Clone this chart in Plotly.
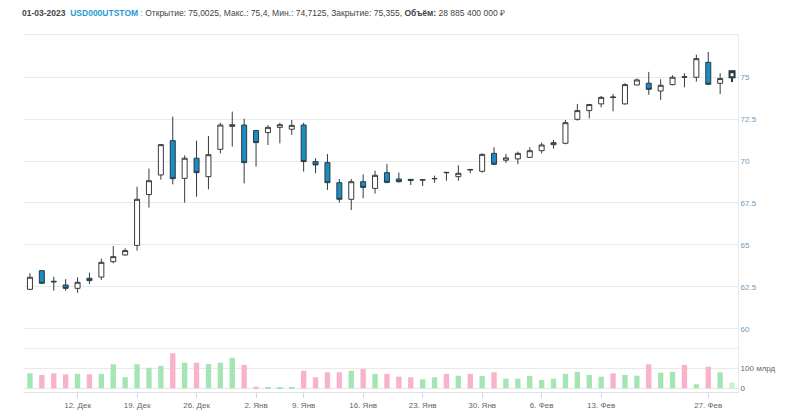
import plotly.graph_objects as go

dates = [
    "2022-12-06", "2022-12-07", "2022-12-08", "2022-12-09", "2022-12-12", "2022-12-13",
    "2022-12-14", "2022-12-15", "2022-12-16", "2022-12-19", "2022-12-20", "2022-12-21",
    "2022-12-22", "2022-12-23", "2022-12-26", "2022-12-27", "2022-12-28", "2022-12-29",
    "2022-12-30", "2023-01-03", "2023-01-04", "2023-01-05", "2023-01-06", "2023-01-09",
    "2023-01-10", "2023-01-11", "2023-01-12", "2023-01-13", "2023-01-16", "2023-01-17",
    "2023-01-18", "2023-01-19", "2023-01-20", "2023-01-23", "2023-01-24", "2023-01-25",
    "2023-01-26", "2023-01-27", "2023-01-30", "2023-01-31", "2023-02-01", "2023-02-02",
    "2023-02-03", "2023-02-06", "2023-02-07", "2023-02-08", "2023-02-09", "2023-02-10",
    "2023-02-13", "2023-02-14", "2023-02-15", "2023-02-16", "2023-02-17", "2023-02-20",
    "2023-02-21", "2023-02-22", "2023-02-24", "2023-02-27", "2023-02-28", "2023-03-01",
]

open_ = [62.35, 63.46, 62.83, 62.61, 62.41, 63.01, 63.08, 64.00, 64.40, 64.97,
         68.00, 69.17, 71.22, 68.97, 70.17, 69.07, 70.70, 72.07, 72.15, 71.82,
         71.70, 72.01, 71.90, 72.15, 69.97, 69.91, 68.71, 67.72, 68.77, 68.37,
         69.31, 68.93, 68.91, 68.86, 68.94, 69.33, 69.07, 69.50, 69.39, 70.46,
         70.05, 70.13, 70.22, 70.62, 70.98, 71.06, 72.49, 73.01, 73.41, 73.82,
         73.41, 74.54, 74.64, 74.18, 74.56, 75.03, 75.00, 75.89, 74.64, 75.0025]
high = [63.31, 63.50, 63.10, 62.95, 63.07, 63.34, 64.18, 64.93, 64.80, 68.47,
        69.55, 71.02, 72.65, 70.34, 71.22, 71.50, 72.29, 72.95, 72.53, 71.86,
        72.15, 72.29, 72.45, 72.29, 70.17, 70.42, 68.93, 68.93, 69.21, 69.43,
        69.83, 69.31, 68.93, 68.90, 69.13, 69.34, 69.75, 69.51, 70.46, 70.82,
        70.42, 70.56, 70.82, 71.10, 71.26, 72.45, 73.41, 73.41, 73.88, 74.00,
        74.64, 74.92, 75.32, 74.88, 75.12, 75.24, 76.35, 76.51, 75.24, 75.4]
low = [62.33, 62.68, 62.27, 62.27, 62.15, 62.67, 62.91, 63.90, 64.36, 64.66,
       67.22, 68.89, 68.61, 67.52, 67.88, 68.32, 70.46, 70.86, 68.67, 69.67,
       70.96, 71.06, 71.56, 69.37, 69.27, 68.28, 67.52, 67.08, 67.78, 68.06,
       68.67, 68.71, 68.57, 68.51, 68.71, 68.83, 68.83, 69.27, 69.31, 69.77,
       69.89, 69.81, 70.20, 70.46, 70.74, 71.00, 72.41, 72.55, 73.21, 72.97,
       73.37, 74.52, 73.96, 73.65, 74.52, 74.40, 74.74, 74.56, 74.00, 74.7125]
close = [63.07, 62.71, 62.80, 62.41, 62.77, 62.87, 63.96, 64.30, 64.66, 67.72,
         68.83, 70.98, 68.95, 70.17, 69.31, 70.38, 72.15, 72.17, 69.91, 71.10,
         72.01, 72.17, 72.13, 69.97, 69.77, 68.71, 67.72, 68.77, 68.43, 69.15,
         68.73, 68.77, 68.85, 68.89, 68.96, 69.31, 69.27, 69.48, 70.40, 69.81,
         70.19, 70.46, 70.62, 70.96, 71.10, 72.29, 73.01, 73.37, 73.80, 73.80,
         74.56, 74.84, 74.28, 74.52, 75.00, 75.01, 76.11, 74.58, 74.92, 75.355]

volume_bn = [75, 67, 75, 70, 72, 70, 72, 120, 55, 120,
             103, 112, 175, 128, 128, 122, 128, 153, 117, 8,
             7, 5, 5, 88, 55, 80, 80, 88, 97, 72,
             72, 58, 55, 45, 55, 72, 63, 72, 62, 80,
             48, 48, 62, 42, 48, 72, 82, 67, 58, 75,
             67, 63, 120, 78, 82, 117, 20, 108, 80, 28.8854]

tick_dates = ["2022-12-12", "2022-12-19", "2022-12-26", "2023-01-03", "2023-01-09",
              "2023-01-16", "2023-01-23", "2023-01-30", "2023-02-06", "2023-02-13",
              "2023-02-27"]
tick_labels = ["12. Дек", "19. Дек", "26. Дек", "2. Янв", "9. Янв", "16. Янв",
               "23. Янв", "30. Янв", "6. Фев", "13. Фев", "27. Фев"]

price_ticks = [60, 62.5, 65, 67.5, 70, 72.5, 75]
price_labels = ["60", "62.5", "65", "67.5", "70", "72.5", "75"]
vol_ticks = [0, 100]
vol_labels = ["0", "100 млрд"]

UP_VOL = "#a3e6b3"
DOWN_VOL = "#f8b2c9"
LAST_VOL = "#c8f2d3"
BLUE = "#1a8cbf"
GRID = "#e9e9e9"
FONT = "Liberation Sans, Arial, sans-serif"

vol_colors = [UP_VOL if c >= o else DOWN_VOL for o, c in zip(open_, close)]
vol_colors[-1] = LAST_VOL

fig = go.Figure()

fig.add_trace(go.Candlestick(
    x=dates, open=open_, high=high, low=low, close=close,
    increasing=dict(fillcolor="#ffffff", line=dict(color="#3a3a3a", width=1)),
    decreasing=dict(fillcolor=BLUE, line=dict(color="#2b3b44", width=1)),
    whiskerwidth=0, xaxis="x", yaxis="y", showlegend=False, hoverinfo="skip",
))
# highlighted (hovered) last candle
fig.add_trace(go.Candlestick(
    x=dates[-1:], open=open_[-1:], high=high[-1:], low=low[-1:], close=close[-1:],
    increasing=dict(fillcolor="#ffffff", line=dict(color="#2a3a44", width=2)),
    decreasing=dict(fillcolor=BLUE, line=dict(color="#2a3a44", width=2)),
    whiskerwidth=0, xaxis="x", yaxis="y", showlegend=False, hoverinfo="skip",
))

fig.add_trace(go.Bar(
    x=dates, y=volume_bn, marker=dict(color=vol_colors, line=dict(width=0)),
    xaxis="x2", yaxis="y2", showlegend=False, hoverinfo="skip",
))

def fmt(v):
    s = ("%.4f" % v).rstrip("0").rstrip(".")
    return s.replace(".", ",")

vol_rub = round(volume_bn[-1] * 1e9)
vol_txt = "{:,}".format(vol_rub).replace(",", " ")
d = dates[-1]
date_txt = "%s-%s-%s" % (d[8:10], d[5:7], d[0:4])
header = (
    "<b>%s</b>&nbsp;&nbsp;<b><span style='color:#2a9ad4'>USD000UTSTOM</span></b>"
    "<span style='color:#2a9ad4'> :</span> Открытие: %s, Макс.: %s, Мин.: %s, Закрытие: %s, "
    "<b>Объём:</b> %s ₽"
) % (date_txt, fmt(open_[-1]), fmt(high[-1]), fmt(low[-1]), fmt(close[-1]), vol_txt)

H_TOP = 35
H_BOT = 18
area = 410 - H_TOP - H_BOT
split = (392 - 348) / area

fig.update_layout(
    width=799, height=410,
    margin=dict(l=24, r=61, t=H_TOP, b=H_BOT, autoexpand=False),
    paper_bgcolor="#ffffff", plot_bgcolor="#ffffff",
    font=dict(family=FONT, size=8, color="#555555"),
    boxgap=0.4, bargap=0.55,
    xaxis=dict(type="category", domain=[0, 1], anchor="y", matches="x2",
               rangeslider=dict(visible=False), showticklabels=False,
               showgrid=False, showline=True, mirror=True, linecolor=GRID,
               linewidth=1, ticks="", automargin=False),
    yaxis=dict(domain=[split, 1], anchor="x", side="right", range=[58.85, 77.52],
               tickvals=price_ticks, ticktext=price_labels, showgrid=True,
               gridcolor=GRID, gridwidth=1, zeroline=False, showline=True,
               linecolor=GRID, ticks="", automargin=False,
               tickfont=dict(color="#6f9ab8", size=8)),
    xaxis2=dict(type="category", domain=[0, 1], anchor="y2",
                tickvals=tick_dates, ticktext=tick_labels, showgrid=False,
                showline=True, linecolor="#dfe3e8", ticks="outside", ticklen=5,
                tickcolor="#ccd6eb", automargin=False,
                tickfont=dict(color="#666666", size=8)),
    yaxis2=dict(domain=[0, split], anchor="x2", side="right", range=[-18.5, 201.5],
                tickvals=vol_ticks, ticktext=vol_labels, showgrid=True,
                gridcolor=GRID, zeroline=False, showline=True, linecolor=GRID,
                ticks="", automargin=False, tickfont=dict(color="#666666", size=8)),
    annotations=[dict(
        text=header, xref="paper", yref="paper", x=0, xshift=-4,
        y=1 + (H_TOP - 13) / area, xanchor="left", yanchor="middle",
        showarrow=False, font=dict(family=FONT, size=8.5, color="#444444"),
    )],
)

fig.write_html("out.html")
